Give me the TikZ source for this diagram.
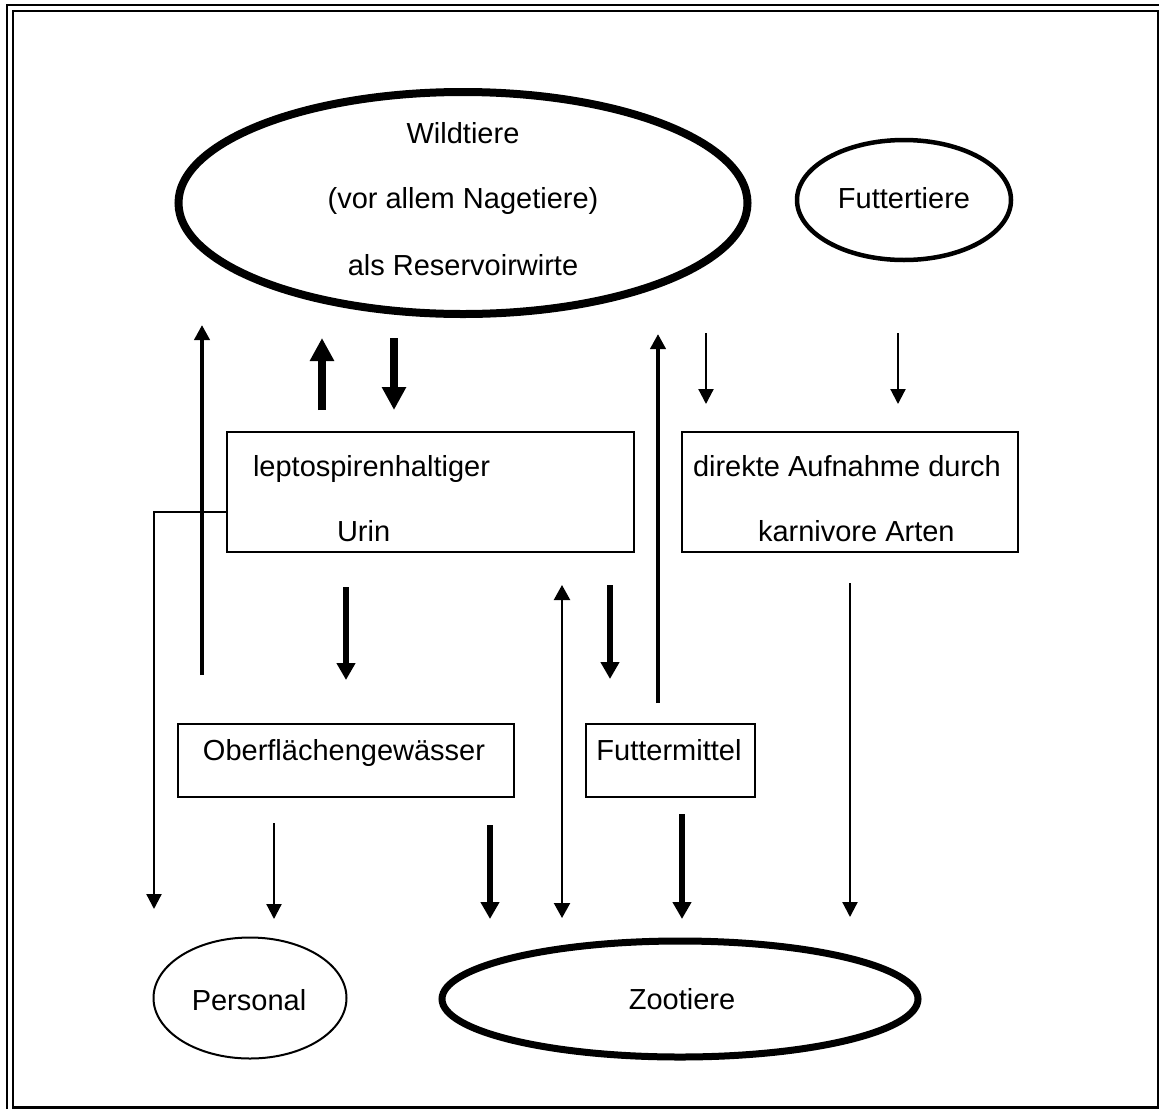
\documentclass[tikz,border=0pt]{standalone}
\usepackage{fontspec}
\setmainfont{Liberation Sans}
\usetikzlibrary{shapes.geometric,arrows.meta}
\begin{document}
\begin{tikzpicture}[x=1pt,y=-1pt,
  every node/.style={font=\fontsize{29}{35}\selectfont, inner sep=0pt, outer sep=0pt},
  ell/.style={draw, ellipse},
  box/.style={draw, rectangle, line width=2pt},
  thinA/.style={line width=2.2pt, -{Triangle[length=15pt,width=15pt]}},
  thinD/.style={line width=2.2pt, {Triangle[length=15pt,width=16pt]}-{Triangle[length=15pt,width=16pt]}},
  medA/.style={line width=4.5pt, -{Triangle[length=15pt,width=15pt]}},
  thickA/.style={line width=5.5pt, -{Triangle[length=17pt,width=18pt]}},
  vthickA/.style={line width=8pt, -{Triangle[length=23pt,width=23pt]}}]
\useasboundingbox (0,0) rectangle (1159,1109);
% frame
\draw[line width=2pt] (7,1109) -- (7,5) -- (1159,5);
\draw[line width=2.2pt] (13,11) -- (1158,11) -- (1158,1107.5) -- (13,1107.5) -- cycle;
\draw[line width=3pt] (13,1107.5) -- (1158,1107.5);

% shapes
\node[ell, line width=8pt, minimum width=569pt, minimum height=222pt] (wild) at (463,203) {};
\node[anchor=base] (t1) at (463,143) {Wildtiere};
\node[anchor=base] (t2) at (463,208) {(vor allem Nagetiere)};
\node[anchor=base] (t3) at (463,275) {als Reservoirwirte};

\node[ell, line width=4.5pt, minimum width=214pt, minimum height=120pt] (futt) at (904,200) {};
\node[anchor=base] (t4) at (904,208) {Futtertiere};

\node[box, minimum width=407pt, minimum height=120pt] (lepto) at (430.5,492) {};
\node[anchor=base west] (t5) at (253,476) {leptospirenhaltiger};
\node[anchor=base west] (t6) at (337,541) {Urin};

\node[box, minimum width=336pt, minimum height=120pt] (direkt) at (850,492) {};
\node[anchor=base west] (t7) at (693,476) {direkte Aufnahme durch};
\node[anchor=base west] (t8) at (758,541) {karnivore Arten};

\node[box, minimum width=336pt, minimum height=73pt] (ober) at (346,760.5) {};
\node[anchor=base] (t9) at (344,760) {Oberflächengewässer};

\node[box, minimum width=169pt, minimum height=73pt] (fmit) at (670,760.5) {};
\node[anchor=base] (t10) at (669,760) {Futtermittel};

\node[ell, line width=2pt, minimum width=193pt, minimum height=121pt] (pers) at (250,998) {};
\node[anchor=base] (t11) at (249,1010) {Personal};

\node[ell, line width=7pt, minimum width=476pt, minimum height=116pt] (zoo) at (680,999) {};
\node[anchor=base] (t12) at (682,1009) {Zootiere};

% coordinates for floating arrows
\coordinate (a1s) at (202,675); \coordinate (a1e) at (202,325);
\coordinate (a2s) at (322,410); \coordinate (a2e) at (322,338);
\coordinate (a3s) at (394,338); \coordinate (a3e) at (394,410);
\coordinate (a4s) at (658,703); \coordinate (a4e) at (658,334);
\coordinate (a5s) at (706,333); \coordinate (a5e) at (706,404);
\coordinate (a6s) at (898,333); \coordinate (a6e) at (898,404);
\coordinate (a7s) at (346,587); \coordinate (a7e) at (346,680);
\coordinate (a8s) at (562,585); \coordinate (a8e) at (562,918);
\coordinate (a9s) at (610,585); \coordinate (a9e) at (610,679);
\coordinate (a10s) at (850,583); \coordinate (a10e) at (850,917);
\coordinate (a11s) at (274,823); \coordinate (a11e) at (274,919);
\coordinate (a12s) at (490,825); \coordinate (a12e) at (490,919);
\coordinate (a13s) at (682,814); \coordinate (a13e) at (682,919);
\coordinate (bend) at (154,512);
\coordinate (a14e) at (154,909);

\draw[medA] (a1s) -- (a1e);
\draw[vthickA] (a2s) -- (a2e);
\draw[vthickA] (a3s) -- (a3e);
\draw[medA] (a4s) -- (a4e);
\draw[thinA] (a5s) -- (a5e);
\draw[thinA] (a6s) -- (a6e);
\draw[thickA] (a7s) -- (a7e);
\draw[thinD] (a8s) -- (a8e);
\draw[thickA] (a9s) -- (a9e);
\draw[thinA] (a10s) -- (a10e);
\draw[thinA] (a11s) -- (a11e);
\draw[thickA] (a12s) -- (a12e);
\draw[thickA] (a13s) -- (a13e);
\draw[thinA] (lepto.west |- bend) -- (bend) -- (a14e);
\end{tikzpicture}
\end{document}
